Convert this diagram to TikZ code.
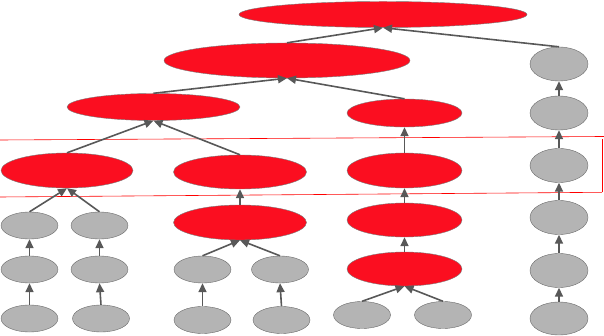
\documentclass[tikz,border=0pt]{standalone}
\usepackage{xcolor}
\usetikzlibrary{shapes.geometric,arrows.meta}

\definecolor{nodered}{RGB}{251,14,32}
\definecolor{nodegray}{RGB}{180,180,180}
\definecolor{edgegray}{RGB}{88,88,88}

\tikzset{
  rednode/.style={ellipse,draw=edgegray!80,line width=0.4pt,fill=nodered,inner sep=0pt},
  graynode/.style={ellipse,draw=edgegray!90,line width=0.4pt,fill=nodegray,inner sep=0pt,
    minimum width=57pt,minimum height=27pt},
  colnode/.style={graynode,minimum width=58pt,minimum height=34pt},
  link/.style={draw=edgegray,line width=1.6pt,-{Triangle[length=9pt,width=8pt]}}
}

\begin{document}
\begin{tikzpicture}[x=1pt,y=-1pt]
  \useasboundingbox (0,0) rectangle (604,336);
  % band round the fourth row
  \draw[red,line width=0.6pt] (0,140) -- (604,136.5);
  \draw[red,line width=0.6pt] (602,139) -- (602,192);
  \draw[red,line width=0.6pt] (0,197) -- (602,192.3);
  % red part of the tree
  \node[rednode,minimum width=288pt,minimum height=26pt] (t) at (383,14.5) {};
  \node[rednode,minimum width=246pt,minimum height=35pt] (s) at (287,60.5) {};
  \node[rednode,minimum width=173pt,minimum height=27pt] (a) at (153.5,107) {};
  \node[rednode,minimum width=115pt,minimum height=28pt] (b) at (404.5,113) {};
  \node[rednode,minimum width=132pt,minimum height=35pt] (c1) at (67,170.5) {};
  \node[rednode,minimum width=133pt,minimum height=34pt] (c2) at (240,172) {};
  \node[rednode,minimum width=115pt,minimum height=35pt] (c3) at (404.5,170.5) {};
  \node[rednode,minimum width=133pt,minimum height=35pt] (d2) at (240,222.5) {};
  \node[rednode,minimum width=115pt,minimum height=34pt] (d3) at (404.5,220) {};
  \node[rednode,minimum width=115pt,minimum height=34pt] (e3) at (404.5,269) {};
  % gray leaves
  \node[graynode] (l1) at (29.5,225.5) {};
  \node[graynode] (l2) at (99.5,225.5) {};
  \node[graynode] (m1) at (29.5,269.5) {};
  \node[graynode] (m2) at (99.5,269.5) {};
  \node[graynode] (m3) at (202.5,269.5) {};
  \node[graynode] (m4) at (280,269.5) {};
  \node[graynode] (n1) at (29.5,318.5) {};
  \node[graynode] (n2) at (101,318.5) {};
  \node[graynode] (n3) at (202.5,320) {};
  \node[graynode] (n4) at (281.5,320) {};
  \node[graynode] (n5) at (362,315) {};
  \node[graynode] (n6) at (443,315) {};
  % gray column on the right
  \node[colnode] (g1) at (559,64) {};
  \node[colnode] (g2) at (559,113) {};
  \node[colnode] (g3) at (559,165.5) {};
  \node[colnode] (g4) at (559,217.5) {};
  \node[colnode] (g5) at (559,270.5) {};
  \node[colnode,minimum height=33pt] (g6) at (559,318.5) {};
  % edges, child to parent
  \foreach \c/\p in {s/t,g1/t,a/s,b/s,c1/a,c2/a,c3/b,l1/c1,l2/c1,d2/c2,d3/c3,
      m1/l1,m2/l2,m3/d2,m4/d2,e3/d3,n1/m1,n2/m2,n3/m3,n4/m4,n5/e3,n6/e3,
      g2/g1,g3/g2,g4/g3,g5/g4,g6/g5}
    \draw[link] (\c.north) -- (\p.south);
\end{tikzpicture}
\end{document}
